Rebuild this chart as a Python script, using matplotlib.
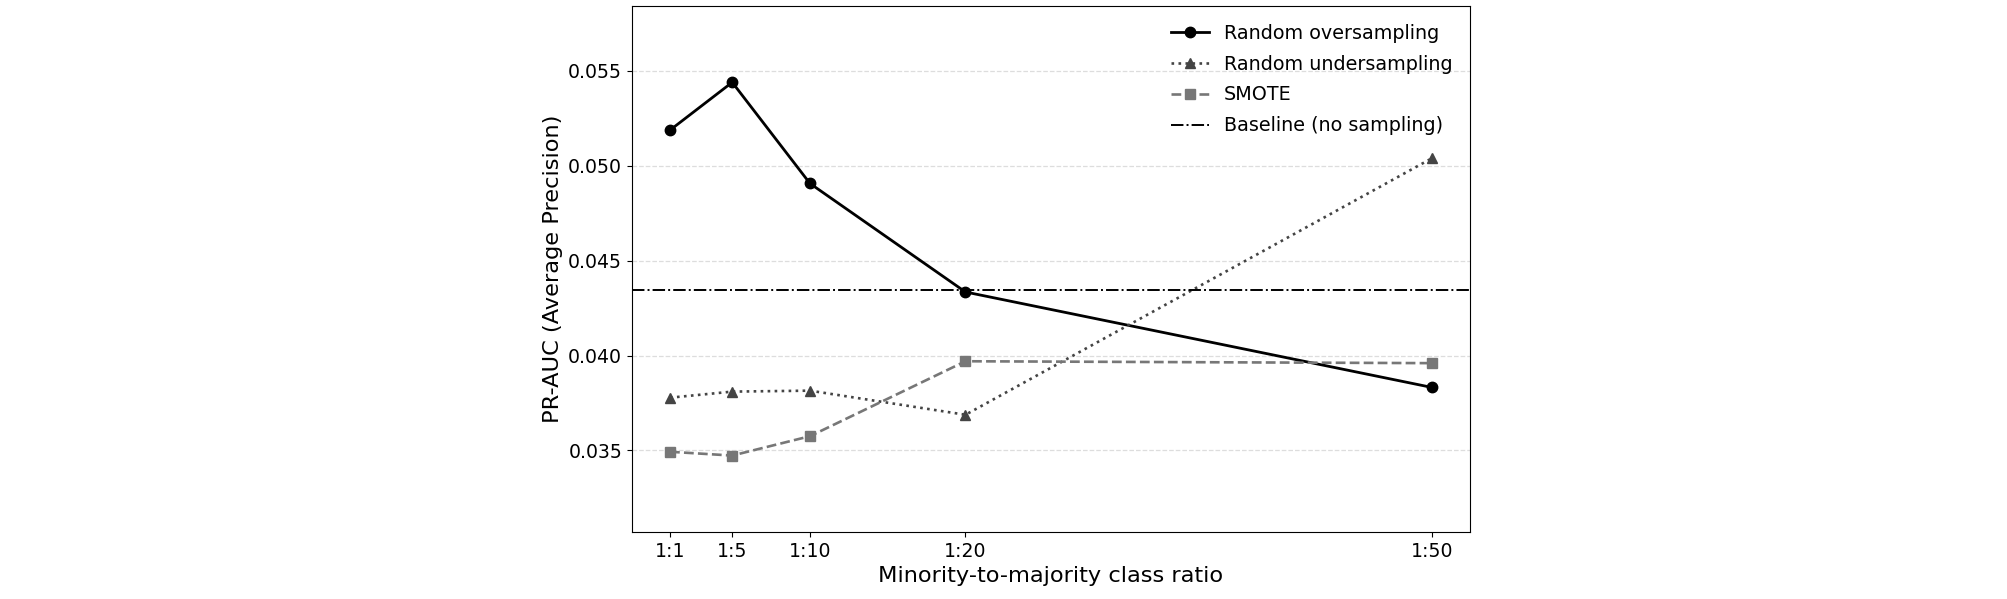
import matplotlib
matplotlib.use("Agg")
import matplotlib.pyplot as plt

ratios = [1, 5, 10, 20, 50]
ratio_labels = ["1:1", "1:5", "1:10", "1:20", "1:50"]
oversampling = [0.05188, 0.05440, 0.04907, 0.04335, 0.03832]
undersampling = [0.03778, 0.03810, 0.03815, 0.03688, 0.05040]
smote = [0.03493, 0.03473, 0.03575, 0.03970, 0.03960]
baseline = 0.04348

fig = plt.figure(figsize=(20.08, 5.99), dpi=100)
ax = fig.add_axes([0.3147, 0.1118, 0.4174, 0.8775])

ax.plot(ratios, oversampling, color="black", linestyle="-", linewidth=2.0,
        marker="o", markersize=7.5, label="Random oversampling")
ax.plot(ratios, undersampling, color="#444444", linestyle=":", linewidth=1.9,
        marker="^", markersize=7.5, label="Random undersampling")
ax.plot(ratios, smote, color="#777777", linestyle="--", linewidth=1.9,
        marker="s", markersize=7, label="SMOTE")
ax.axhline(baseline, color="black", linestyle="-.", linewidth=1.4,
           label="Baseline (no sampling)")

ax.set_xticks(ratios)
ax.set_xticklabels(ratio_labels)
ax.set_ylim(0.0307, 0.0584)
ax.set_yticks([0.035, 0.040, 0.045, 0.050, 0.055])
ax.set_yticklabels(["0.035", "0.040", "0.045", "0.050", "0.055"])
ax.tick_params(labelsize=13.6)
ax.grid(axis="y", linestyle="--", color="#dddddd", linewidth=0.9)
ax.set_axisbelow(True)

ax.set_xlabel("Minority-to-majority class ratio", fontsize=16.2)
ax.set_ylabel("PR-AUC (Average Precision)", fontsize=16.2)
ax.legend(loc="upper right", frameon=False, fontsize=13.8, labelspacing=0.62)

fig.savefig("out.png", dpi=100)
